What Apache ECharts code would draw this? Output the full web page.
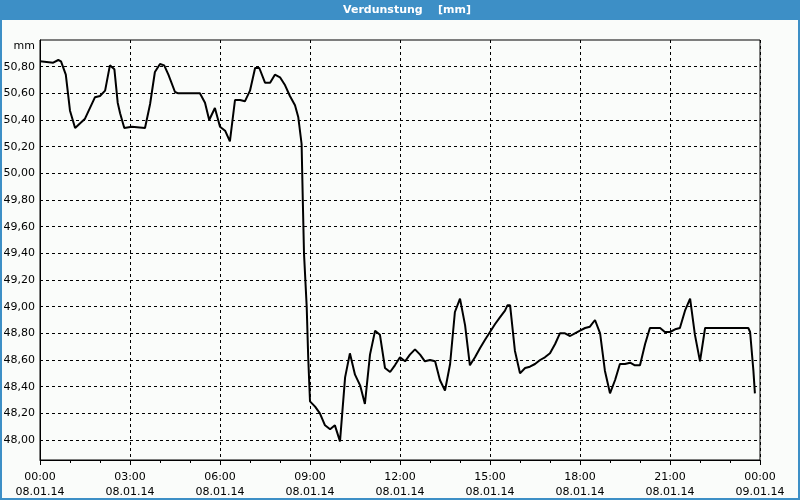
<!DOCTYPE html>
<html>
<head>
<meta charset="utf-8">
<script src="https://cdn.jsdelivr.net/npm/echarts@6/dist/echarts.min.js"></script>
<style>html,body{margin:0;padding:0;background:#fafcfa;}#c{width:800px;height:500px;}</style>
</head>
<body>
<div id="c"></div>
<script>
const chartTitle = 'Verdunstung    [mm]';
const unitLabel = 'mm';
const hours = [0,0.44,0.61,0.70,0.86,1.0,1.17,1.5,1.83,2.0,2.17,2.33,2.48,2.59,2.67,2.81,3.06,3.5,3.67,3.83,4.0,4.14,4.28,4.5,4.61,5.33,5.5,5.64,5.83,6.0,6.17,6.33,6.5,6.67,6.83,7.0,7.17,7.31,7.5,7.67,7.83,8.0,8.17,8.33,8.5,8.61,8.72,8.76,8.8,8.89,8.94,9.0,9.17,9.33,9.5,9.67,9.83,10.0,10.17,10.33,10.5,10.67,10.83,11.0,11.17,11.33,11.5,11.67,11.83,12.0,12.17,12.33,12.5,12.67,12.83,13.0,13.17,13.33,13.5,13.67,13.83,14.0,14.17,14.33,14.5,14.67,14.83,15.0,15.17,15.33,15.5,15.58,15.67,15.83,16.0,16.17,16.33,16.5,16.67,16.83,17.0,17.17,17.33,17.5,17.67,17.83,18.0,18.17,18.33,18.5,18.67,18.83,19.0,19.17,19.33,19.5,19.67,19.83,20.0,20.17,20.33,20.5,20.67,20.83,21.0,21.17,21.33,21.5,21.67,21.83,22.0,22.17,22.33,23.61,23.67,23.78,23.83];
const values = [50.84,50.83,50.85,50.84,50.74,50.47,50.34,50.41,50.57,50.58,50.62,50.81,50.78,50.53,50.45,50.34,50.35,50.34,50.52,50.76,50.82,50.81,50.74,50.61,50.60,50.60,50.53,50.40,50.49,50.35,50.32,50.24,50.55,50.55,50.54,50.62,50.79,50.79,50.68,50.68,50.74,50.72,50.66,50.58,50.51,50.42,50.22,49.80,49.40,49.00,48.62,48.29,48.25,48.20,48.11,48.08,48.11,47.99,48.47,48.65,48.49,48.41,48.27,48.64,48.82,48.79,48.54,48.51,48.56,48.62,48.59,48.64,48.68,48.64,48.59,48.60,48.59,48.45,48.37,48.57,48.96,49.06,48.86,48.56,48.62,48.69,48.75,48.81,48.87,48.92,48.97,49.01,49.01,48.67,48.50,48.54,48.55,48.57,48.60,48.62,48.65,48.72,48.80,48.80,48.78,48.80,48.82,48.84,48.85,48.90,48.80,48.52,48.35,48.45,48.57,48.57,48.58,48.56,48.56,48.72,48.84,48.84,48.84,48.81,48.81,48.83,48.84,48.97,49.06,48.79,48.59,48.84,48.84,48.84,48.81,48.52,48.35];
const yTicks = [48.0,48.2,48.4,48.6,48.8,49.0,49.2,49.4,49.6,49.8,50.0,50.2,50.4,50.6,50.8];
const xTickHours = [0,3,6,9,12,15,18,21,24];
const dayLabels = ['08.01.14','09.01.14'];

const data = hours.map((h,i)=>[h, values[i]]);
const font = 'Tahoma, "DejaVu Sans", sans-serif';
const chart = echarts.init(document.getElementById('c'), null, {renderer:'canvas'});
chart.setOption({
  animation:false,
  backgroundColor:'#fafcfa',
  graphic:[
    {type:'rect', shape:{x:0,y:0,width:800,height:20}, style:{fill:'#3d8fc6'}, z:0},
    {type:'rect', shape:{x:1,y:1,width:798,height:498}, style:{fill:null, stroke:'#3d8fc6', lineWidth:2}, z:0},
    {type:'text', x:407, y:10, style:{text:chartTitle, fill:'#ffffff', font:'bold 11px '+font, align:'center', verticalAlign:'middle'}, z:5},
    {type:'text', x:35, y:46, style:{text:unitLabel, fill:'#000', font:'11px '+font, align:'right', verticalAlign:'middle'}, z:5}
  ],
  grid:{left:40, right:40, top:40, bottom:40, show:true, borderColor:'#000', borderWidth:1, backgroundColor:'transparent'},
  xAxis:{
    type:'value', min:0, max:24, interval:3,
    axisLine:{show:true, lineStyle:{color:'#000', width:1}},
    axisTick:{show:true, length:5, lineStyle:{color:'#000'}, customValues:xTickHours},
    minorTick:{show:true, splitNumber:3, length:3, lineStyle:{color:'#000'}},
    splitLine:{show:true, lineStyle:{color:'#000', type:[3,3], width:1}},
    axisLabel:{customValues:xTickHours, color:'#000', fontFamily:font, fontSize:11, margin:10, lineHeight:15,
      formatter:function(v){ const h=Math.round(v)%24; const d = v>=24?dayLabels[1]:dayLabels[0]; return (h<10?'0':'')+h+':00\n'+d; }}
  },
  yAxis:{
    type:'value', min:47.85, max:51.0,
    axisLine:{show:true, lineStyle:{color:'#000', width:1}},
    axisTick:{show:false, customValues:yTicks},
    splitLine:{show:true, lineStyle:{color:'#000', type:[3,3], width:1}},
    axisLabel:{customValues:yTicks, color:'#000', fontFamily:font, fontSize:11, margin:5,
      formatter:function(v){ return v.toFixed(2).replace('.',','); }}
  },
  series:[{type:'line', data:data, symbol:'none', lineStyle:{color:'#000', width:2}, z:3}]
});
</script>
</body>
</html>
